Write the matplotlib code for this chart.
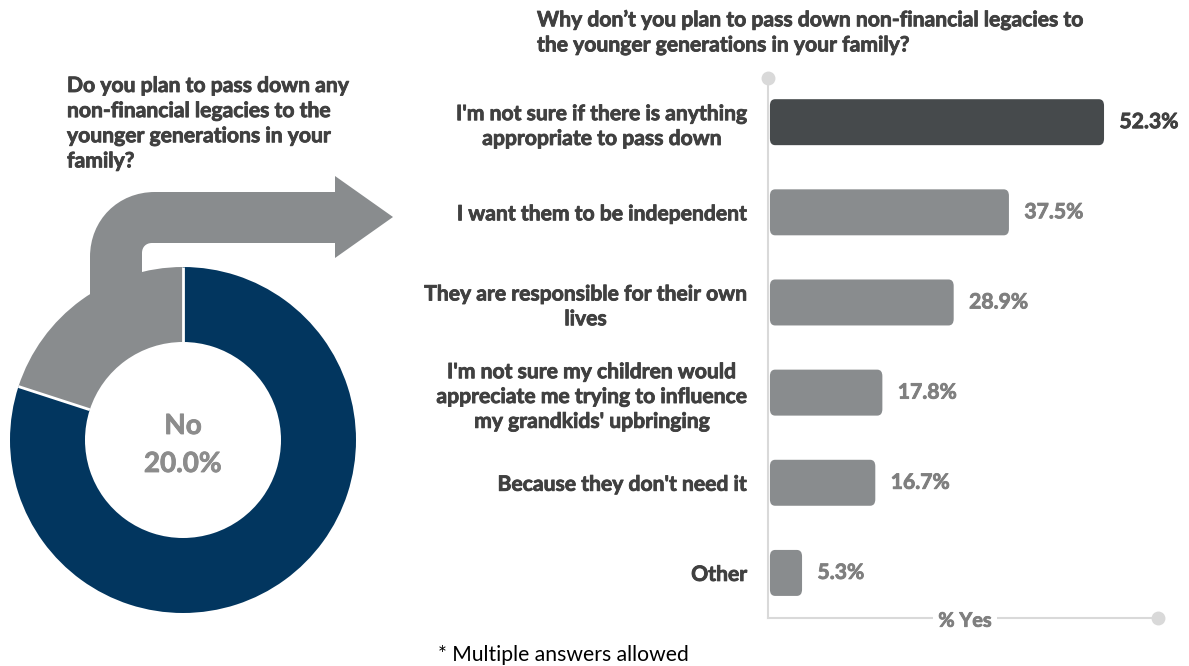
import numpy as np
import matplotlib
matplotlib.use('Agg')
import matplotlib.pyplot as plt
import matplotlib.patheffects as pe
from matplotlib.path import Path
from matplotlib.patches import PathPatch, FancyBboxPatch

plt.rcParams['font.family'] = ['Lato', 'DejaVu Sans']

# donut: share answering "No" vs the rest
donut_labels = ['No', 'Yes']
donut_values = [20.0, 80.0]

# reasons for not passing down non-financial legacies
reasons = [
    "I'm not sure if there is anything\nappropriate to pass down",
    "I want them to be independent",
    "They are responsible for their own\nlives",
    "I'm not sure my children would\nappreciate me trying to influence\nmy grandkids' upbringing",
    "Because they don't need it",
    "Other",
]
pct_yes = [52.3, 37.5, 28.9, 17.8, 16.7, 5.3]

NAVY = '#02365F'
GREY = '#898C8E'
DARK = '#464A4C'
TXT = '#404040'
VAL = '#7F7F7F'
AXC = '#D9D9D9'
FS = 15.2

def heavy(c):
    # thicken Lato Bold a little
    return [pe.withStroke(linewidth=0.6, foreground=c)]

W, H = 1189, 666
fig = plt.figure(figsize=(W / 100, H / 100), dpi=100)

# background axes in pixel units (y up)
bg = fig.add_axes([0, 0, 1, 1])

def py(y):
    return H - y

# bent arrow from the "No" slice towards the bar chart
verts = [
    (90, py(330)), (90, py(257)),
    (90, py(220)), (118, py(192)), (155, py(192)),
    (335, py(192)), (335, py(176)), (393, py(217)), (335, py(258)),
    (335, py(243)), (152, py(243)),
    (146, py(243)), (142, py(247)), (142, py(253)),
    (142, py(330)), (90, py(330)),
]
codes = [Path.MOVETO, Path.LINETO,
         Path.CURVE4, Path.CURVE4, Path.CURVE4,
         Path.LINETO, Path.LINETO, Path.LINETO, Path.LINETO,
         Path.LINETO, Path.LINETO,
         Path.CURVE4, Path.CURVE4, Path.CURVE4,
         Path.LINETO, Path.CLOSEPOLY]
bg.add_patch(PathPatch(Path(verts, codes), facecolor=GREY, edgecolor='none', zorder=1))

cx, cy, r_out, r_in = 183, py(440), 173, 98
bg.pie(donut_values, colors=[GREY, NAVY], startangle=90, counterclock=True,
       center=(cx, cy), radius=r_out, frame=True,
       wedgeprops=dict(width=r_out - r_in, edgecolor='none', zorder=2))
bg.set_xlim(0, W)
bg.set_ylim(0, H)
bg.set_aspect('auto')
bg.axis('off')

# white separators between the slices
ang = 90.0
for v in donut_values:
    a = np.deg2rad(ang)
    bg.plot([cx + r_in * np.cos(a), cx + r_out * np.cos(a)],
            [cy + r_in * np.sin(a), cy + r_out * np.sin(a)],
            color='white', lw=2, zorder=3, solid_capstyle='butt')
    ang += v / sum(donut_values) * 360

bg.text(cx, cy + 14, donut_labels[0], ha='center', va='center', fontsize=20,
        fontweight='bold', color='#8C8C8C', zorder=4, path_effects=heavy('#8C8C8C'))
bg.text(cx, cy - 24, f'{donut_values[0]:.1f}%', ha='center', va='center',
        fontsize=20, fontweight='bold', color='#8C8C8C', zorder=4,
        path_effects=heavy('#8C8C8C'))

bg.text(67, py(76), 'Do you plan to pass down any\nnon-financial legacies to the\n'
        'younger generations in your\nfamily?', ha='left', va='top', fontsize=FS,
        fontweight='bold', color=TXT, linespacing=1.32, path_effects=heavy(TXT))
bg.text(537, py(10), "Why don\u2019t you plan to pass down non-financial legacies to\n"
        "the younger generations in your family?", ha='left', va='top',
        fontsize=FS, fontweight='bold', color=TXT, linespacing=1.32,
        path_effects=heavy(TXT))
bg.text(438, py(655), '* Multiple answers allowed', ha='left', va='center',
        fontsize=FS, color='black')

# bar chart
ax = fig.add_axes([768 / W, (H - 618) / H, 390 / W, 540 / H])
ypos = np.arange(len(reasons))
bars = ax.barh(ypos, pct_yes, height=0.51, color=GREY)
for i, b in enumerate(bars):
    b.set_visible(False)
    x0, y0 = b.get_x(), b.get_y()
    fb = FancyBboxPatch((x0 + 0.3, y0), b.get_width() - 0.3, b.get_height(),
                        boxstyle='round,pad=0,rounding_size=0.8',
                        mutation_aspect=0.09,
                        facecolor=DARK if i == 0 else GREY, edgecolor='none')
    ax.add_patch(fb)
    c = TXT if i == 0 else VAL
    ax.text(b.get_width() + 2.4, ypos[i], f'{pct_yes[i]:.1f}%', ha='left',
            va='center', fontsize=FS, fontweight='bold', color=c,
            path_effects=heavy(c))

ax.set_xlim(0, 60.7)
ax.set_ylim(5.5, -0.49)
ax.set_yticks(ypos)
ax.set_yticklabels(reasons, fontsize=FS, fontweight='bold', color=TXT,
                   multialignment='center', linespacing=1.3)
for t in ax.get_yticklabels():
    t.set_path_effects(heavy(TXT))
ax.tick_params(axis='y', length=0, pad=15)
ax.set_xticks([])
for s in ['top', 'right']:
    ax.spines[s].set_visible(False)
for s in ['left', 'bottom']:
    ax.spines[s].set_color(AXC)
    ax.spines[s].set_linewidth(1.5)
ax.patch.set_alpha(0)
ax.plot([0], [1], 'o', color=AXC, ms=9, transform=ax.transAxes, clip_on=False)
ax.plot([1], [0], 'o', color=AXC, ms=9, transform=ax.transAxes, clip_on=False)
ax.text(0.505, -0.005, '% Yes', transform=ax.transAxes, ha='center', va='center',
        fontsize=14.3, fontweight='bold', color=VAL, path_effects=heavy(VAL),
        bbox=dict(facecolor='white', edgecolor='none', pad=4))

fig.savefig('out.png', dpi=100)
